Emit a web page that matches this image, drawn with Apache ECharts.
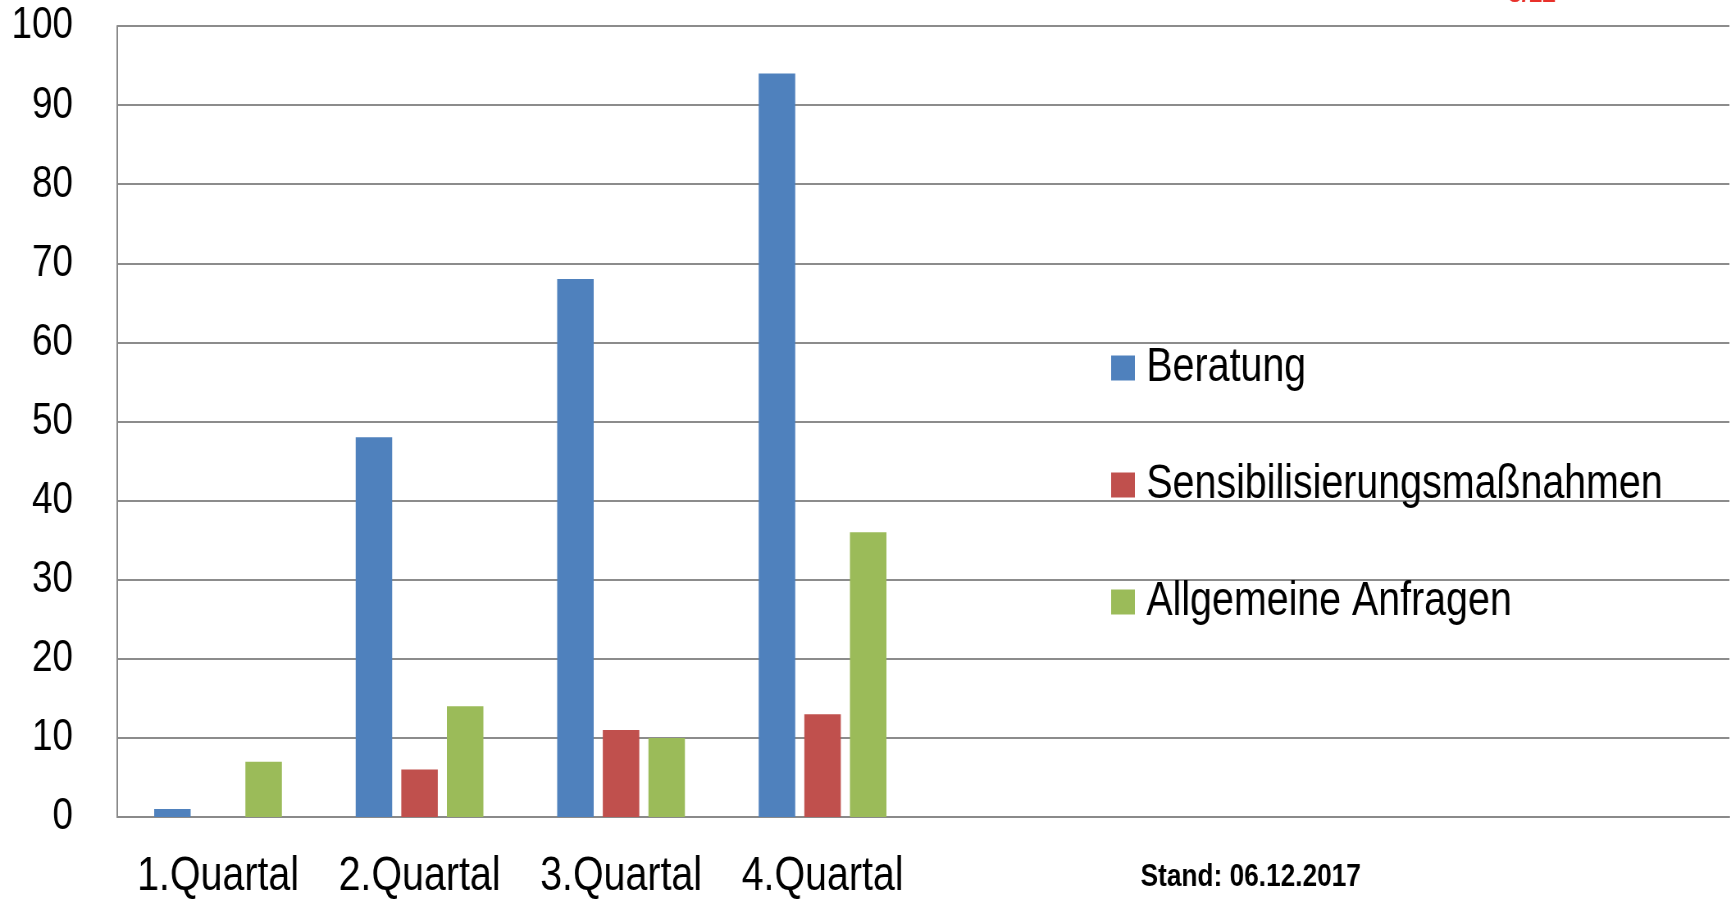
<!DOCTYPE html>
<html>
<head>
<meta charset="utf-8">
<style>
html,body{margin:0;padding:0;background:#fff;overflow:hidden;}
#wrap{width:1730px;height:901px;overflow:hidden;position:relative;}
#c{width:2110px;height:901px;transform:scaleX(0.82);transform-origin:0 0;position:absolute;left:0;top:0;}
</style>
<script src="https://cdn.jsdelivr.net/npm/echarts@6/dist/echarts.min.js"></script>
</head>
<body>
<div id="wrap"><div id="c"></div></div>
<script>
const categories = ['1.Quartal', '2.Quartal', '3.Quartal', '4.Quartal', '', '', '', ''];
const beratung = [1, 48, 68, 94, null, null, null, null];
const sensibilisierung = [0, 6, 11, 13, null, null, null, null];
const anfragen = [7, 14, 10, 36, null, null, null, null];
const yTicks = { min: 0, max: 100, interval: 10 };
const seriesNames = ['Beratung', 'Sensibilisierungsmaßnahmen', 'Allgemeine Anfragen'];
const standText = 'Stand: 06.12.2017';
const pageMark = '3/12';

const FONT = "'Liberation Sans', Arial, sans-serif";
const chart = echarts.init(document.getElementById('c'));
chart.setOption({
  animation: false,
  backgroundColor: '#ffffff',
  grid: { left: 143, top: 26, right: 1, bottom: 79, containLabel: false },
  xAxis: {
    type: 'category',
    data: categories,
    axisTick: { show: false },
    axisLine: { lineStyle: { color: '#8a8a8a', width: 2 } },
    axisLabel: { color: '#000', fontFamily: FONT, fontSize: 48, lineHeight: 48, margin: 36, interval: 0 }
  },
  yAxis: {
    type: 'value',
    min: yTicks.min, max: yTicks.max, interval: yTicks.interval,
    axisLine: { show: true, lineStyle: { color: '#8a8a8a', width: 2 } },
    axisTick: { show: false },
    splitLine: { lineStyle: { color: '#8c8c8c', width: 2 } },
    axisLabel: { color: '#000', fontFamily: FONT, fontSize: 45, margin: 54 }
  },
  legend: {
    orient: 'vertical',
    left: 1350, top: 339,
    itemWidth: 29, itemHeight: 25, itemGap: 69,
    icon: 'rect',
    textStyle: { color: '#000', fontFamily: FONT, fontSize: 48, lineHeight: 48, padding: [0, 0, 0, 9] },
    data: seriesNames
  },
  series: [
    { name: seriesNames[0], type: 'bar', data: beratung, barWidth: 44.5, barGap: '25%', itemStyle: { color: '#4F81BD' } },
    { name: seriesNames[1], type: 'bar', data: sensibilisierung, barWidth: 44.5, barGap: '25%', itemStyle: { color: '#C0504D' } },
    { name: seriesNames[2], type: 'bar', data: anfragen, barWidth: 44.5, barGap: '25%', itemStyle: { color: '#9BBB59' } }
  ],
  graphic: [
    { type: 'text', left: 1391, top: 861, style: { text: standText, fontFamily: FONT, fontWeight: 'bold', fontSize: 32, fill: '#000' } },
    { type: 'text', x: 1839, y: -21.5, style: { text: pageMark, fontFamily: FONT, fontWeight: 'bold', fontSize: 30, fill: '#E8302A' } }
  ]
});
</script>
</body>
</html>
